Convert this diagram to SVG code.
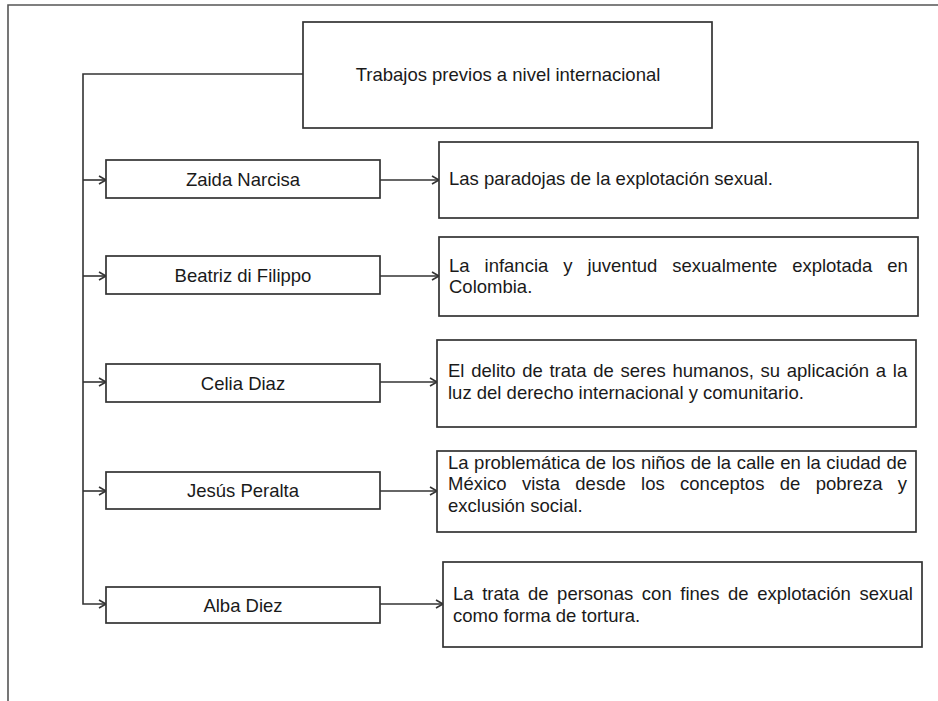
<svg xmlns="http://www.w3.org/2000/svg" width="938" height="701" viewBox="0 0 938 701">
<style>
.frame{fill:none;stroke:#555;stroke-width:1.6}
.box{fill:#fff;stroke:#333;stroke-width:1.7}
.conn{fill:none;stroke:#333;stroke-width:1.6}
text{font-family:"Liberation Sans",Arial,sans-serif;font-size:18.5px;fill:#1a1a1a}
.c{text-anchor:middle}
</style>
<defs>
<marker id="arr" viewBox="-10 -6 12 12" refX="0" refY="0" markerWidth="12" markerHeight="12" markerUnits="userSpaceOnUse" orient="auto">
<path d="M-7,-4 L0,0 L-7,4" fill="none" stroke="#333" stroke-width="1.6"/>
</marker>
</defs>
<rect width="938" height="701" fill="#fff"/>
<path class="frame" d="M8,701 V5 H938"/>
<g id="connectors">
<path class="conn" d="M303,74 H83 V604 H106" marker-end="url(#arr)"/>
<path class="conn" d="M83,180 H106" marker-end="url(#arr)"/>
<path class="conn" d="M83,276 H106" marker-end="url(#arr)"/>
<path class="conn" d="M83,382 H106" marker-end="url(#arr)"/>
<path class="conn" d="M83,491 H106" marker-end="url(#arr)"/>
<path class="conn" d="M380,180 H439" marker-end="url(#arr)"/>
<path class="conn" d="M380,276 H439" marker-end="url(#arr)"/>
<path class="conn" d="M380,382 H437" marker-end="url(#arr)"/>
<path class="conn" d="M380,491 H437" marker-end="url(#arr)"/>
<path class="conn" d="M380,604 H443" marker-end="url(#arr)"/>
</g>
<g id="title">
<rect class="box" x="303" y="22" width="409" height="106"/>
<text class="c" x="508" y="81">Trabajos previos a nivel internacional</text>
</g>
<g id="n1">
<rect class="box" x="106" y="160" width="274" height="38"/>
<text class="c" x="243" y="185.6">Zaida Narcisa</text>
</g>
<g id="n2">
<rect class="box" x="106" y="256" width="274" height="38"/>
<text class="c" x="243" y="281.6">Beatriz di Filippo</text>
</g>
<g id="n3">
<rect class="box" x="106" y="364" width="274" height="38"/>
<text class="c" x="243" y="389.6">Celia Diaz</text>
</g>
<g id="n4">
<rect class="box" x="106" y="472" width="274" height="37"/>
<text class="c" x="243" y="497">Jesús Peralta</text>
</g>
<g id="n5">
<rect class="box" x="106" y="587" width="274" height="36"/>
<text class="c" x="243" y="611.6">Alba Diez</text>
</g>
<g id="d1">
<rect class="box" x="439" y="142" width="479" height="76"/>
<text x="449" y="185">Las paradojas de la explotación sexual.</text>
</g>
<g id="d2">
<rect class="box" x="439" y="237" width="479" height="79"/>
<text x="449" y="271.5" word-spacing="9.8">La infancia y juventud sexualmente explotada en</text>
<text x="449" y="293">Colombia.</text>
</g>
<g id="d3">
<rect class="box" x="437" y="340" width="479" height="87"/>
<text x="448" y="377" word-spacing="1.6">El delito de trata de seres humanos, su aplicación a la</text>
<text x="448" y="398.5">luz del derecho internacional y comunitario.</text>
</g>
<g id="d4">
<rect class="box" x="437" y="451" width="479" height="81"/>
<text x="448" y="468.5" word-spacing="0.4">La problemática de los niños de la calle en la ciudad de</text>
<text x="448" y="490" word-spacing="10.2">México vista desde los conceptos de pobreza y</text>
<text x="448" y="511.5">exclusión social.</text>
</g>
<g id="d5">
<rect class="box" x="443" y="562" width="479" height="85"/>
<text x="453" y="600" word-spacing="3.5">La trata de personas con fines de explotación sexual</text>
<text x="453" y="621.5">como forma de tortura.</text>
</g>
</svg>
